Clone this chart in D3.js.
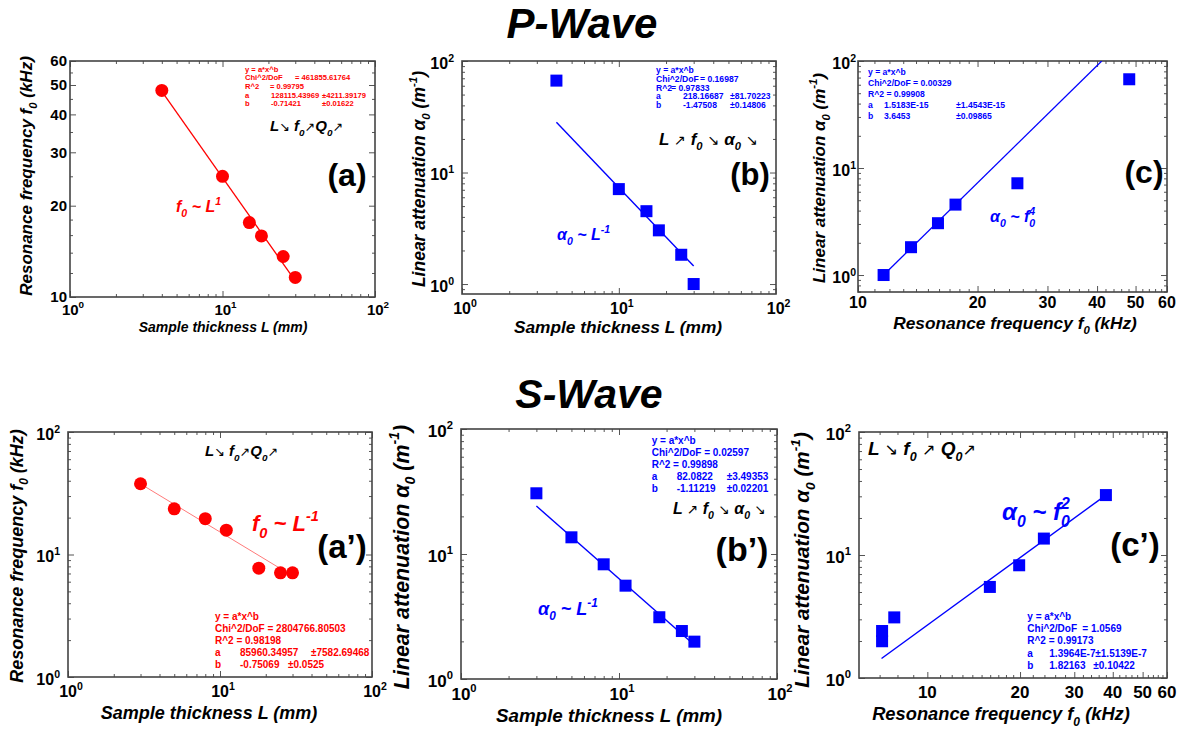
<!DOCTYPE html>
<html><head><meta charset="utf-8">
<script src="https://cdn.jsdelivr.net/npm/d3@7"></script>
<style>body{margin:0;background:#fff;}svg{display:block;}</style>
</head><body>
<script>
// ---------------- DATA ----------------
// P-wave (a): resonance frequency vs thickness
const pA_L = [4, 10, 15, 18, 25, 30];
const pA_f0 = [48, 25, 17.6, 15.9, 13.6, 11.6];
const pA_fitL = [4, 30];
const pA_fitF = [47.6, 11.3];
// P-wave (b): attenuation vs thickness
const pB_L = [4, 10, 15, 18, 25, 30];
const pB_alpha = [66.7, 7.1, 4.5, 3.03, 1.83, 1.0];
const pB_fitL = [4, 30];
const pB_fitA = [28.2, 1.45];
// P-wave (c): attenuation vs frequency
const pC_f0 = [11.6, 13.6, 15.9, 17.6, 25.2, 48.2];
const pC_alpha = [1.0, 1.82, 3.05, 4.55, 7.2, 67.5];
const pC_fitF = [11.6, 41.1];
const pC_fitA = [1.0, 100];
// S-wave (a')
const sA_L = [3, 5, 8, 11, 18, 25, 30];
const sA_f0 = [37.8, 23.6, 19.6, 15.8, 7.73, 7.08, 7.08];
const sA_fitL = [3, 25];
const sA_fitF = [37.7, 7.67];
// S-wave (b')
const sB_L = [3, 5, 8, 11, 18, 25, 30];
const sB_alpha = [30.6, 13.6, 8.27, 5.58, 3.12, 2.42, 1.99];
const sB_fitL = [3, 30];
const sB_fitA = [24.2, 1.87];
// S-wave (c')
const sC_f0 = [7.13, 7.13, 7.81, 15.96, 19.87, 23.9, 38.0];
const sC_alpha = [2.41, 1.99, 3.11, 5.5, 8.25, 13.6, 30.7];
const sC_fitF = [7.1, 37.8];
const sC_fitA = [1.44, 30.4];
// tick values
const decadeTicks = [1, 10, 100];
const decadeMinor = [2, 3, 4, 5, 6, 7, 8, 9, 20, 30, 40, 50, 60, 70, 80, 90];
const pA_yTicks = [10, 20, 30, 40, 50, 60];
const pA_yMinor = [12, 14, 16, 18, 25, 35, 45, 55];
const freqTicks = [10, 20, 30, 40, 50, 60];
const freqMinor = [11, 12, 13, 14, 15, 16, 17, 18, 19, 22, 24, 26, 28, 32, 34, 36, 38, 42, 44, 46, 48, 52, 54, 56, 58];
const freqMinorS = [7, 8, 9].concat(freqMinor);
const lowMinorB = [0.9].concat(decadeMinor);
const lowMinorC = [0.7, 0.8, 0.9].concat(decadeMinor);

// ---------------- DRAW ----------------
const FONT = '"Liberation Sans", Arial, Helvetica, sans-serif';
const RED = '#ff0000', BLUE = '#0000ff';
const svg = d3.select('body').append('svg').attr('width', 1192).attr('height', 733)
  .style('font-family', FONT);
const defs = svg.append('defs');

// segment kinds: '' normal, 'sub', 'sup', 'stack' (sup placed above preceding sub), 'arr' (thin arrow)
function rich(t, segs, fs) {
  let cur = 0;
  segs.forEach(s => {
    const k = s[1] || '';
    const shift = k === 'sub' ? 0.3 * fs : (k === 'sup' || k === 'stack') ? -0.45 * fs : 0;
    const small = (k === 'sub' || k === 'sup' || k === 'stack');
    const ts = t.append('tspan').attr('dy', (shift - cur).toFixed(2))
      .attr('font-size', small ? fs * 0.66 : fs).text(s[0]);
    if (k === 'stack') ts.attr('dx', (-0.37 * fs).toFixed(2));
    if (k === 'arr') ts.attr('font-weight', 'normal').attr('font-family', '"DejaVu Sans", sans-serif')
      .attr('font-size', fs * 0.85);
    cur = shift;
  });
  return t;
}
function label(x, y, segs, fs, opt = {}) {
  const t = svg.append('text')
    .attr('transform', `translate(${x},${y})` + (opt.rot ? ' rotate(-90)' : ''))
    .attr('text-anchor', opt.anchor || 'start')
    .attr('font-size', fs)
    .attr('font-weight', opt.weight || 'bold')
    .attr('font-style', opt.style || 'normal')
    .attr('fill', opt.color || '#000');
  rich(t, segs, fs);
  return t;
}

function panel(p) {
  const g = svg.append('g');
  const x = d3.scaleLog().domain(p.xDom).range([p.x0, p.x1]);
  const y = d3.scaleLog().domain(p.yDom).range([p.y1, p.y0]);
  const cid = 'clip' + p.id;
  defs.append('clipPath').attr('id', cid).append('rect')
    .attr('x', p.x0).attr('y', p.y0).attr('width', p.x1 - p.x0).attr('height', p.y1 - p.y0);
  const ax = (axis, tr) => {
    g.append('g').attr('transform', tr).call(axis).call(s => {
      s.select('.domain').remove();
      s.selectAll('text').remove();
      s.selectAll('line').attr('stroke', '#555').attr('stroke-width', 1);
    });
  };
  [[p.xMajor, 6], [p.xMinor, 3]].forEach(([v, len]) => {
    ax(d3.axisBottom(x).tickValues(v).tickSize(-len), `translate(0,${p.y1})`);
    ax(d3.axisTop(x).tickValues(v).tickSize(-len), `translate(0,${p.y0})`);
  });
  [[p.yMajor, 6], [p.yMinor, 3]].forEach(([v, len]) => {
    ax(d3.axisLeft(y).tickValues(v).tickSize(-len), `translate(${p.x0},0)`);
    ax(d3.axisRight(y).tickValues(v).tickSize(-len), `translate(${p.x1},0)`);
  });
  g.append('rect').attr('x', p.x0).attr('y', p.y0).attr('width', p.x1 - p.x0).attr('height', p.y1 - p.y0)
    .attr('fill', 'none').attr('stroke', '#444').attr('stroke-width', 1.6);
  // tick labels
  const fs = p.tickFs;
  const seg = (v, dec) => dec ? [['10'], [String(Math.round(Math.log10(v))), 'sup']] : [[String(v)]];
  p.xMajor.forEach(v => {
    label(x(v) + (p.xDec ? 3 : 0), p.y1 + p.xLabOff, seg(v, p.xDec), fs, { anchor: 'middle' });
  });
  p.yMajor.forEach(v => {
    label(p.x0 - p.yLabOff, y(v) + 0.36 * fs + (p.yDec ? 2 : 0), seg(v, p.yDec), fs, { anchor: 'end' });
  });
  // fit line
  g.append('path').datum(d3.zip(p.fitX, p.fitY)).attr('clip-path', `url(#${cid})`)
    .attr('d', d3.line().x(d => x(d[0])).y(d => y(d[1])))
    .attr('fill', 'none').attr('stroke', p.lineColor).attr('stroke-width', p.lw);
  // points
  const pts = d3.zip(p.xs, p.ys);
  if (p.shape === 'circle') {
    g.selectAll('circle.pt').data(pts).join('circle').attr('class', 'pt')
      .attr('cx', d => x(d[0])).attr('cy', d => y(d[1])).attr('r', p.size / 2).attr('fill', p.color);
  } else {
    g.selectAll('rect.pt').data(pts).join('rect').attr('class', 'pt')
      .attr('x', d => x(d[0]) - p.size / 2).attr('y', d => y(d[1]) - p.size / 2)
      .attr('width', p.size).attr('height', p.size).attr('fill', p.color);
  }
  return { x, y };
}

function fitBox(rows, x0, yc0, dy, fs, color) {
  rows.forEach((row, i) => {
    row.forEach(([txt, dx]) => {
      svg.append('text').attr('x', x0 + dx).attr('y', yc0 + i * dy + 0.36 * fs)
        .attr('font-size', fs).attr('font-weight', 'bold').attr('fill', color).text(txt);
    });
  });
}

// Titles
label(582, 38, [['P-Wave']], 42, { anchor: 'middle', style: 'italic' });
label(589, 408, [['S-Wave']], 41, { anchor: 'middle', style: 'italic' });

const fLabel = [['Resonance frequency '], ['f'], ['0', 'sub'], [' (kHz)']];
const aLabel = [['Linear attenuation '], ['\u03b1'], ['0', 'sub'], [' (m'], ['-1', 'sup'], [')']];
const LLabel = [['Sample thickness L (mm)']];
const arrP = [['L'], ['\u2198', 'arr'], [' f'], ['0', 'sub'], ['\u2197', 'arr'], ['Q'], ['0', 'sub'], ['\u2197', 'arr']];
const arrB = [['L '], ['\u2197', 'arr'], [' f'], ['0', 'sub'], [' '], ['\u2198', 'arr'], [' \u03b1'], ['0', 'sub'], [' '], ['\u2198', 'arr']];
const arrC = [['L '], ['\u2198', 'arr'], [' f'], ['0', 'sub'], [' '], ['\u2197', 'arr'], [' Q'], ['0', 'sub'], ['\u2197', 'arr']];

// ---- (a)
panel({ id: 'a', x0: 70, x1: 375, y0: 61, y1: 297, xDom: [1, 100], yDom: [10, 60],
  xMajor: decadeTicks, xMinor: decadeMinor, yMajor: pA_yTicks, yMinor: pA_yMinor,
  xDec: true, yDec: false, tickFs: 15, xLabOff: 18, yLabOff: 3,
  xs: pA_L, ys: pA_f0, fitX: pA_fitL, fitY: pA_fitF, shape: 'circle', size: 13,
  color: RED, lineColor: RED, lw: 1.3 });
label(32, 176, fLabel, 17, { rot: true, anchor: 'middle', style: 'italic' });
label(223, 332, LLabel, 14, { anchor: 'middle', style: 'italic' });
label(347, 186, [['(a)']], 32, { anchor: 'middle' });
label(176, 212, [['f'], ['0', 'sub'], [' ~ L'], ['1', 'sup']], 16, { style: 'italic', color: RED });
label(270, 131, arrP, 15, { style: 'italic' });
fitBox([
  [['y = a*x^b', 0]],
  [['Chi^2/DoF', 0], ['= 461855.61764', 50]],
  [['R^2', 0], ['=  0.99795', 25]],
  [['a', 0], ['128115.43969', 26], ['\u00b14211.39179', 77]],
  [['b', 0], ['-0.71421', 26], ['\u00b10.01622', 77]]
], 245, 69, 8.6, 7.6, RED);

// ---- (b)
panel({ id: 'b', x0: 462, x1: 776, y0: 61, y1: 294, xDom: [1, 100.5], yDom: [0.814, 100],
  xMajor: decadeTicks, xMinor: decadeMinor, yMajor: decadeTicks, yMinor: lowMinorB,
  xDec: true, yDec: true, tickFs: 16, xLabOff: 20, yLabOff: 8,
  xs: pB_L, ys: pB_alpha, fitX: pB_fitL, fitY: pB_fitA, shape: 'square', size: 12,
  color: BLUE, lineColor: BLUE, lw: 1.4 });
label(425, 179, aLabel, 17.5, { rot: true, anchor: 'middle', style: 'italic' });
label(618, 333, LLabel, 17.3, { anchor: 'middle', style: 'italic' });
label(750, 185, [['(b)']], 31, { anchor: 'middle' });
label(659, 145, arrB, 17, { style: 'italic' });
label(557, 240, [['\u03b1'], ['0', 'sub'], [' ~ L'], ['-1', 'sup']], 16, { style: 'italic', color: BLUE });
fitBox([
  [['y = a*x^b', 0]],
  [['Chi^2/DoF', 0], ['= 0.16987', 44]],
  [['R^2', 0], ['=  0.97833', 15]],
  [['a', 0], ['218.16687', 27], ['\u00b181.70223', 74]],
  [['b', 0], ['-1.47508', 27], ['\u00b10.14806', 74]]
], 656, 70, 8.8, 8.6, BLUE);

// ---- (c)
panel({ id: 'c', x0: 858, x1: 1167, y0: 61, y1: 292, xDom: [10, 60], yDom: [0.694, 100],
  xMajor: freqTicks, xMinor: freqMinor, yMajor: decadeTicks, yMinor: lowMinorC,
  xDec: false, yDec: true, tickFs: 16, xLabOff: 16, yLabOff: 2,
  xs: pC_f0, ys: pC_alpha, fitX: pC_fitF, fitY: pC_fitA, shape: 'square', size: 12,
  color: BLUE, lineColor: BLUE, lw: 1.3 });
label(825, 178, aLabel, 17, { rot: true, anchor: 'middle', style: 'italic' });
label(1015, 329, fLabel, 17.3, { anchor: 'middle', style: 'italic' });
label(1144, 183, [['(c)']], 32, { anchor: 'middle' });
label(990, 222, [['\u03b1'], ['0', 'sub'], [' ~ f'], ['0', 'sub'], ['4', 'stack']], 16, { style: 'italic', color: BLUE });
fitBox([
  [['y = a*x^b', 0]],
  [['Chi^2/DoF = 0.00329', 0]],
  [['R^2  =  0.99908', 0]],
  [['a', 0], ['1.5183E-15', 16], ['\u00b11.4543E-15', 88]],
  [['b', 0], ['3.6453', 16], ['\u00b10.09865', 88]]
], 868, 71.5, 11, 8.6, BLUE);

// ---- (a')
panel({ id: 'a2', x0: 68, x1: 372, y0: 432, y1: 677, xDom: [1, 100], yDom: [1, 100],
  xMajor: decadeTicks, xMinor: decadeMinor, yMajor: decadeTicks, yMinor: decadeMinor,
  xDec: true, yDec: true, tickFs: 16, xLabOff: 20, yLabOff: 8,
  xs: sA_L, ys: sA_f0, fitX: sA_fitL, fitY: sA_fitF, shape: 'circle', size: 13,
  color: RED, lineColor: '#ff7a7a', lw: 1 });
label(23, 556, fLabel, 18, { rot: true, anchor: 'middle', style: 'italic' });
label(209, 719, LLabel, 18, { anchor: 'middle', style: 'italic' });
label(342, 558, [['(a\u2019)']], 33, { anchor: 'middle' });
label(252, 531, [['f'], ['0', 'sub'], [' ~ L'], ['-1', 'sup']], 22, { style: 'italic', color: RED });
label(205, 456, arrP, 15, { style: 'italic' });
fitBox([
  [['y = a*x^b', 0]],
  [['Chi^2/DoF = 2804766.80503', 0]],
  [['R^2  =  0.98198', 0]],
  [['a', 0], ['85960.34957', 25], ['\u00b17582.69468', 96]],
  [['b', 0], ['-0.75069', 25], ['\u00b10.0525', 73]]
], 215, 616.7, 12, 10, RED);

// ---- (b')
panel({ id: 'b2', x0: 461, x1: 777, y0: 429, y1: 679, xDom: [1, 100], yDom: [1, 100],
  xMajor: decadeTicks, xMinor: decadeMinor, yMajor: decadeTicks, yMinor: decadeMinor,
  xDec: true, yDec: true, tickFs: 17, xLabOff: 21, yLabOff: 8,
  xs: sB_L, ys: sB_alpha, fitX: sB_fitL, fitY: sB_fitA, shape: 'square', size: 12,
  color: BLUE, lineColor: BLUE, lw: 1.4 });
label(409, 557, aLabel, 21.4, { rot: true, anchor: 'middle', style: 'italic' });
label(609, 722, LLabel, 18.8, { anchor: 'middle', style: 'italic' });
label(742, 561, [['(b\u2019)']], 34, { anchor: 'middle' });
label(538, 615, [['\u03b1'], ['0', 'sub'], [' ~ L'], ['-1', 'sup']], 18, { style: 'italic', color: BLUE });
label(673, 514, arrB, 16, { style: 'italic' });
fitBox([
  [['y = a*x^b', 0]],
  [['Chi^2/DoF = 0.02597', 0]],
  [['R^2  =  0.99898', 0]],
  [['a', 0], ['82.0822', 25], ['\u00b13.49353', 75]],
  [['b', 0], ['-1.11219', 25], ['\u00b10.02201', 75]]
], 651.7, 440, 12, 10, BLUE);

// ---- (c')
panel({ id: 'c2', x0: 859, x1: 1167, y0: 432, y1: 678, xDom: [6, 60], yDom: [1, 100],
  xMajor: freqTicks, xMinor: freqMinorS, yMajor: decadeTicks, yMinor: decadeMinor,
  xDec: false, yDec: true, tickFs: 17, xLabOff: 20, yLabOff: 8,
  xs: sC_f0, ys: sC_alpha, fitX: sC_fitF, fitY: sC_fitA, shape: 'square', size: 12,
  color: BLUE, lineColor: BLUE, lw: 1.4 });
label(809, 560, aLabel, 20.7, { rot: true, anchor: 'middle', style: 'italic' });
label(1001, 720, fLabel, 18.3, { anchor: 'middle', style: 'italic' });
label(1135, 556, [['(c\u2019)']], 33, { anchor: 'middle' });
label(1002, 520, [['\u03b1'], ['0', 'sub'], [' ~ f'], ['0', 'sub'], ['2', 'stack']], 24, { style: 'italic', color: BLUE });
label(868, 455, arrC, 19, { style: 'italic' });
fitBox([
  [['y = a*x^b', 0]],
  [['Chi^2/DoF', 0], ['= 1.0569', 55]],
  [['R^2 =  0.99173', 0]],
  [['a', 0], ['1.3964E-7', 22], ['\u00b11.5139E-7', 68]],
  [['b', 0], ['1.82163', 22], ['\u00b10.10422', 66]]
], 1027.3, 616, 12.3, 10, BLUE);
</script>
</body></html>
